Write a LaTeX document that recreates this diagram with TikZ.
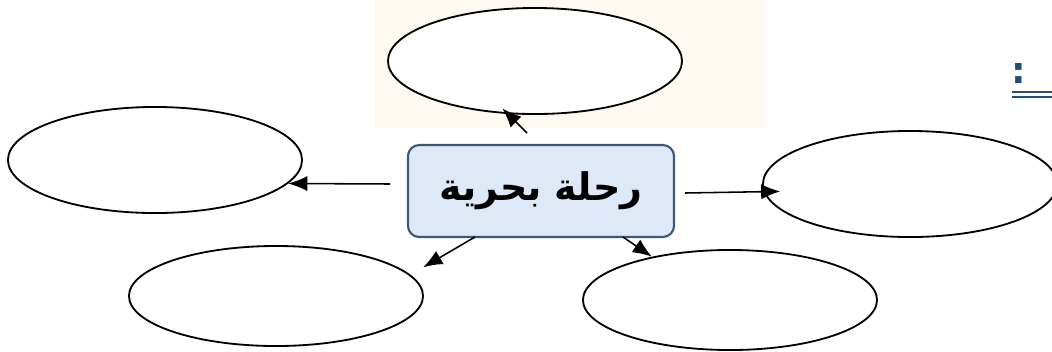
\documentclass[tikz,border=0pt]{standalone}
\usepackage{fontspec}
\usetikzlibrary{arrows.meta,shapes.geometric}
\TeXXeTstate=1
\newfontfamily\arabicfont[Script=Arabic]{DejaVu Sans}
\definecolor{colBox}{rgb}{.867,.914,.965}
\definecolor{colBorder}{rgb}{.235,.345,.463}
\definecolor{colHead}{rgb}{.122,.306,.475}
\definecolor{colWm}{rgb}{.996,.976,.941}
\tikzstyle{bubble}=[ellipse, draw, fill=white, line width=1.3pt, inner sep=0pt, minimum width=7.35cm, minimum height=2.65cm]
\tikzstyle{topic}=[rectangle, rounded corners=8pt, draw=colBorder, line width=1.5pt, fill=colBox, minimum width=6.65cm, minimum height=2.3cm]
\tikzstyle{arr}=[-{Latex[length=4.8mm,width=3.8mm]}, line width=1.1pt]

\begin{document}
\begin{tikzpicture}[x=0.025cm,y=-0.025cm]
	\path[use as bounding box,clip] (0,0) rectangle (1052,351);
	\fill[colWm] (375,0) rectangle (765,128);
	\node[topic] (trip) at (541,191) {\arabicfont\bfseries\fontsize{27}{32}\selectfont\beginR رحلة بحرية\endR};
	\node[bubble] (top) at (535,61) {};
	\node[bubble] (left) at (155,160) {};
	\node[bubble] (right) at (910,184) {};
	\node[bubble, minimum height=2.5cm] (botL) at (276,296) {};
	\node[bubble, minimum height=2.5cm] (botR) at (730,300) {};
	\coordinate (sT) at (527,133);
	\coordinate (sL) at (390,184);
	\coordinate (sR) at (685,193);
	\coordinate (sBL) at (475,237);
	\coordinate (sBR) at (623,237);
	\draw[arr, shorten >=-0.2cm] (sT) -- (top.243);
	\draw[arr] (sL) -- (left.-10);
	\draw[arr, shorten >=-0.42cm] (sR) -- (right.183.5);
	\draw[arr, shorten >=0.37cm] (sBL) -- (botL.9);
	\draw[arr] (sBR) -- (botR.151);
	% cut heading at the right edge
	\node[text=colHead, font=\arabicfont\bfseries\fontsize{26}{30}\selectfont, inner sep=0pt] (colon) at (1019,73) {:};
	\draw[colHead, line width=1.1pt] (1012,92) -- (1052,92) (1012,97) -- (1052,97);
\end{tikzpicture}
\end{document}
